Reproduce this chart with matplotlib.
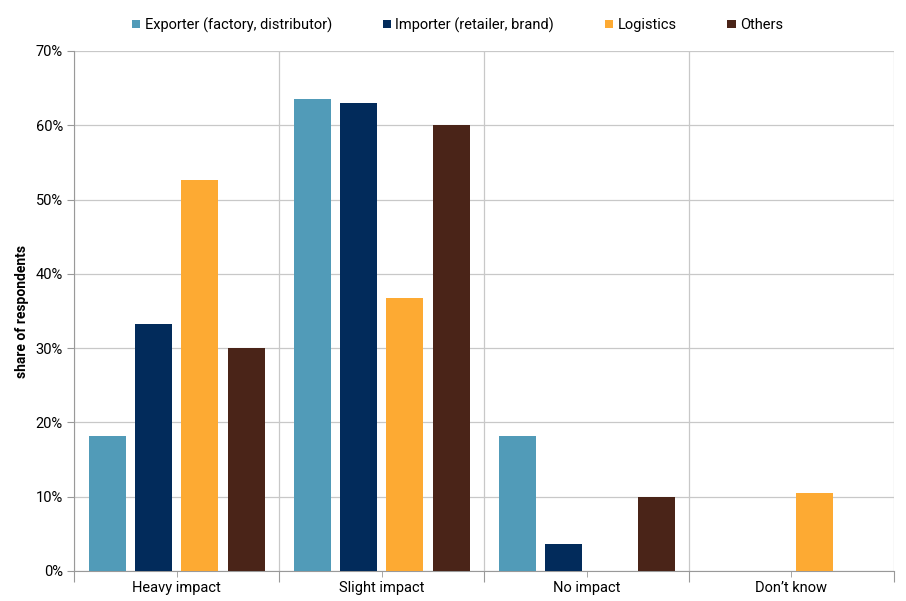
import matplotlib.pyplot as plt
import numpy as np
from matplotlib.ticker import PercentFormatter, FixedLocator

plt.rcParams['font.family'] = ['Roboto', 'DejaVu Sans']

# data
categories = ['Heavy impact', 'Slight impact', 'No impact', 'Don\u2019t know']
series_names = ['Exporter (factory, distributor)', 'Importer (retailer, brand)', 'Logistics', 'Others']
exporter = [18.2, 63.6, 18.2, 0]
importer = [33.3, 63.0, 3.7, 0]
logistics = [52.6, 36.8, 0, 10.5]
others = [30.0, 60.0, 10.0, 0]
colors = ['#519BB8', '#022B5B', '#FDAA33', '#4A2418']

fig = plt.figure(figsize=(9.06, 6.01), dpi=100)
ax = fig.add_axes([74 / 906, 30 / 601, 820 / 906, 520 / 601])

x = np.arange(len(categories))
width = 0.18
offsets = [-0.337, -0.112, 0.114, 0.341]
for vals, name, col, off in zip([exporter, importer, logistics, others], series_names, colors, offsets):
    ax.bar(x + off, vals, width, color=col, label=name, zorder=3)

ax.set_xlim(-0.5, len(categories) - 0.5)
ax.set_ylim(0, 70)
ax.yaxis.set_major_locator(FixedLocator(np.arange(0, 71, 10)))
ax.yaxis.set_major_formatter(PercentFormatter(decimals=0))

# category separators as major ticks, labels at centres
ax.xaxis.set_major_locator(FixedLocator(np.arange(-0.5, len(categories), 1)))
ax.xaxis.set_minor_locator(FixedLocator(x))
ax.set_xticklabels([])
ax.set_xticklabels(categories, minor=True)
ax.tick_params(axis='x', which='major', length=8, color='#999999')
ax.tick_params(axis='x', which='minor', length=4, color='#999999', labelsize=10.5, pad=3)
ax.tick_params(axis='y', length=5, color='#999999', labelsize=10.5, pad=3)

ax.grid(True, which='major', color='#C8C8C8', linewidth=0.9, zorder=0)
for s in ['top', 'right']:
    ax.spines[s].set_visible(False)
for s in ['left', 'bottom']:
    ax.spines[s].set_color('#999999')

ax.set_ylabel('share of respondents', fontsize=10, fontweight='bold', labelpad=5)

fig.legend(loc='upper center', bbox_to_anchor=(0.505, 0.993), ncol=4, frameon=False,
           fontsize=10.5, handlelength=0.55, handleheight=0.55, handletextpad=0.3,
           columnspacing=3.5)

fig.savefig('out.png', dpi=100)
